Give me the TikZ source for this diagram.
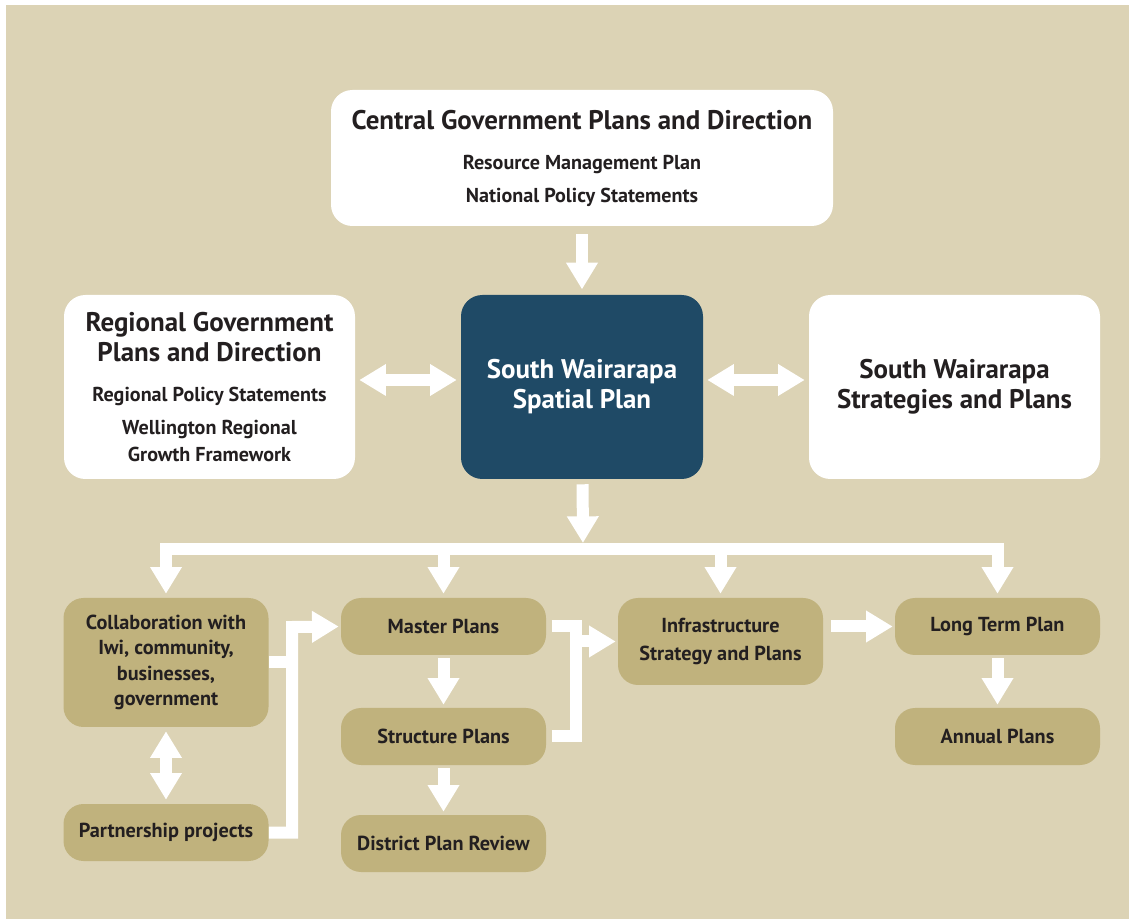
\documentclass[tikz,border=0pt]{standalone}
\usepackage{fontspec}
\setmainfont{PT Sans}
\usetikzlibrary{arrows.meta}
\definecolor{sand}{HTML}{DCD3B5}
\definecolor{tan}{HTML}{C0B27D}
\definecolor{navy}{HTML}{1F4A66}
\definecolor{ink}{HTML}{231F20}
\newcommand\titlefont{\fontsize{20.2}{20.25}\selectfont}
\newcommand\subfont{\fontsize{15.1}{20.25}\selectfont}
\newcommand\tanfont{\fontsize{15.2}{19}\selectfont}

\begin{document}
\begin{tikzpicture}[x=0.75pt,y=-0.75pt,
  box/.style={rounded corners=16pt, inner sep=0pt, align=center, font=\bfseries\subfont, text=ink},
  wbox/.style={box, fill=white, minimum width=218.25pt, minimum height=138pt},
  tbox/.style={box, font=\bfseries\tanfont, fill=tan, rounded corners=15pt, minimum width=153.75pt, minimum height=42.75pt},
  shaft/.style={draw=white, line width=9pt, line join=miter},
  arr/.style={shaft, -{Triangle[width=22.5pt,length=20pt]}},
  dbl/.style={shaft, {Triangle[width=22.5pt,length=20pt]}-{Triangle[width=22.5pt,length=20pt]}}]
  \useasboundingbox (0,0) rectangle (1129,919);
  \fill[sand] (6,5) rectangle (1129,919);

  % top row
  \node[wbox, minimum width=376.5pt, minimum height=102pt] (central) at (582,158)
    {{\titlefont Central Government Plans and Direction}\\[9.75pt]
     Resource Management Plan\\[4.5pt] National Policy Statements};
  \node[wbox] (regional) at (209.5,387)
    {{\titlefont Regional Government}\\[2.25pt]{\titlefont Plans and Direction}\\[9.75pt]
     Regional Policy Statements\\[4.5pt] Wellington Regional\\ Growth Framework};
  \node[wbox, fill=navy, text=white, minimum width=181.5pt] (spatial) at (582,387)
    {\titlefont South Wairarapa\\[2.25pt] \titlefont Spatial Plan};
  \node[wbox] (strategies) at (954.5,387)
    {\titlefont South Wairarapa\\[2.25pt] \titlefont Strategies and Plans};

  % bottom boxes
  \node[tbox, minimum height=96.75pt] (collab) at (166,662.5)
    {Collaboration with\\ Iwi, community,\\ businesses,\\ government};
  \node[tbox] (partner) at (166,832.5) {Partnership projects};
  \node[tbox] (master) at (443.5,626.5) {Master Plans};
  \node[tbox] (structure) at (443.5,736.5) {Structure Plans};
  \node[tbox] (district) at (443.5,843.5) {District Plan Review};
  \node[tbox, minimum height=65.25pt] (infra) at (720.5,641.5)
    {Infrastructure\\[1.5pt] Strategy and Plans};
  \node[tbox] (longterm) at (997.5,626.5) {Long Term Plan};
  \node[tbox] (annual) at (997.5,736.5) {Annual Plans};

  \coordinate (split) at (583,549);
  \coordinate (j1) at (292,627);
  \coordinate (j2) at (576,641.5);

  % connectors
  \draw[arr, shorten <=6pt, shorten >=4pt] (central) -- (spatial);
  \draw[dbl, shorten <=3pt, shorten >=3pt] ([yshift=5.25pt]regional.east) -- ([yshift=5.25pt]spatial.west);
  \draw[dbl, shorten <=3pt, shorten >=3pt] ([yshift=5.25pt]spatial.east) -- ([yshift=5.25pt]strategies.west);
  \draw[arr, shorten <=3.75pt, shorten >=4.5pt] (spatial) -- (split);
  \draw[arr, shorten >=3pt] (split) -| (collab);
  \draw[arr, shorten >=3pt] (split) -| (longterm);
  \draw[arr, shorten >=3pt] (master |- split) -- (master);
  \draw[arr, shorten >=3pt] (infra |- split) -- (infra);

  \draw[dbl, shorten <=3pt, shorten >=3pt] (collab) -- (partner);
  \draw[shaft] (collab.east) -- (collab.east -| j1);
  \draw[arr, shorten >=1.5pt] (partner.east) -| (j1) -- (master.west);

  \draw[arr, shorten <=2.25pt, shorten >=2.25pt] (master) -- (structure);
  \draw[arr, shorten <=2.25pt, shorten >=2.25pt] (structure) -- (district);
  \draw[shaft, shorten <=4pt] (master.east) -| (j2);
  \draw[shaft, shorten <=4pt] (structure.east) -| (j2);
  \draw[arr, shorten >=1.5pt] ([xshift=-4.5pt]j2) -- (infra.west);
  \draw[arr, shorten <=6pt, shorten >=1.5pt] (infra.east |- longterm) -- (longterm.west);
  \draw[arr, shorten <=2.25pt, shorten >=2.25pt] (longterm) -- (annual);
\end{tikzpicture}
\end{document}
